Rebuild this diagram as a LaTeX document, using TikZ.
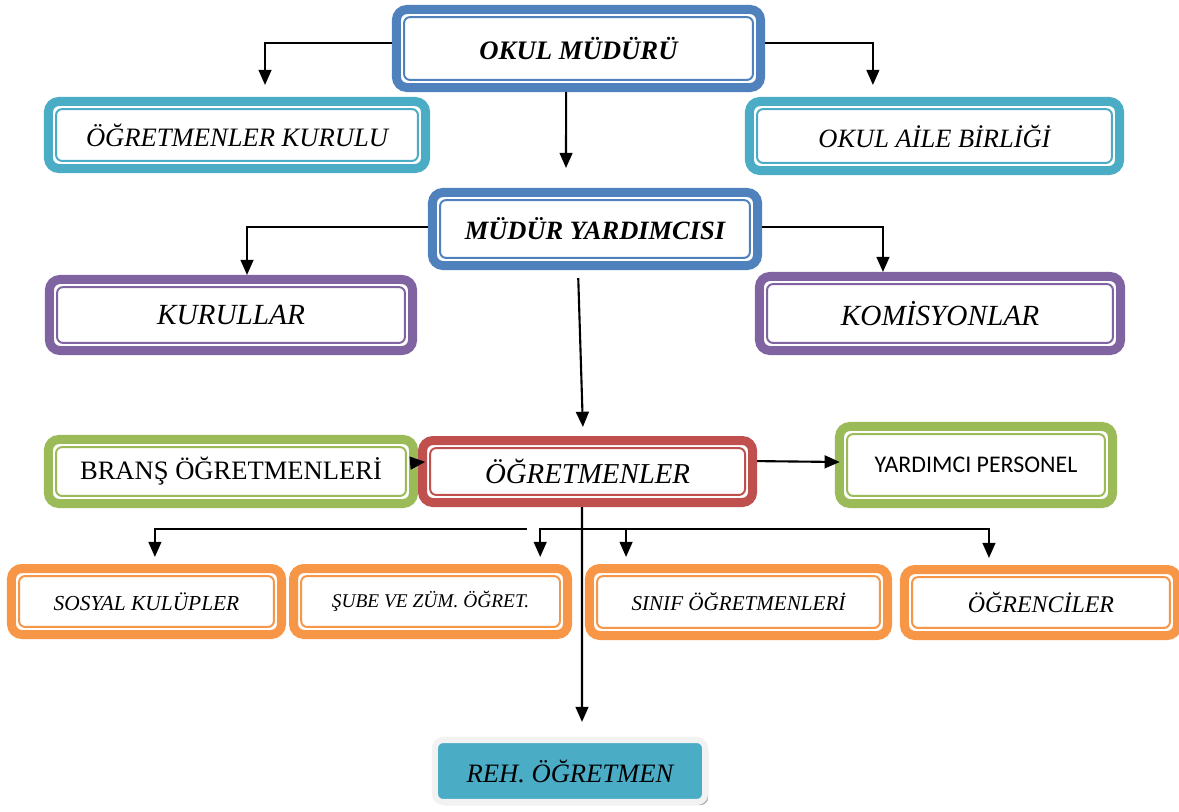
\documentclass[tikz,border=0pt]{standalone}
\usepackage{fontspec}
\setmainfont{Liberation Serif}
\newfontfamily\calibrifont{Carlito}
\usepackage{xcolor}
\usetikzlibrary{arrows.meta, positioning, shadows}

\definecolor{mavi}{HTML}{4F81BD}
\definecolor{turkuaz}{HTML}{4BACC6}
\definecolor{mor}{HTML}{8064A2}
\definecolor{yesil}{HTML}{9BBB59}
\definecolor{kirmizi}{HTML}{C0504D}
\definecolor{turuncu}{HTML}{F79646}
\definecolor{acikgri}{HTML}{F2F2F2}

\begin{document}
\begin{tikzpicture}[
        x=0.025cm, y=-0.025cm,
        kutu/.style = {draw=#1, line width=6.4pt, rounded corners=0.26cm, fill=white, inner sep=0pt, outer sep=3.2pt, align=center,
            path picture={\draw[#1, line width=1.4pt, rounded corners=0.15cm]
                ([shift={(0.19cm,0.19cm)}]path picture bounding box.south west) rectangle
                ([shift={(-0.19cm,-0.19cm)}]path picture bounding box.north east);}},
        rehkutu/.style = {draw=acikgri, fill=turkuaz, line width=4.3pt, rounded corners=0.2cm, inner sep=0pt, outer sep=2.15pt,
            drop shadow={shadow xshift=0.08cm, shadow yshift=-0.08cm, fill=black!45, opacity=0.7}},
        ok/.style = {-{Triangle[length=0.38cm, width=0.32cm]}, line width=1.5pt},
        yazi/.style = {font=\fontsize{#1}{#1}\selectfont\itshape}
    ]
    \useasboundingbox (0,0) rectangle (1179,811);

    \node[kutu=mavi, minimum width=9.1cm, minimum height=1.95cm, font=\fontsize{19}{22}\selectfont\bfseries\itshape] (mudur) at (578.5,48.5) {OKUL MÜDÜRÜ};
    \node[kutu=turkuaz, minimum width=9.425cm, minimum height=1.675cm, yazi=18.9] (kurul) at (237,135) {ÖĞRETMENLER KURULU};
    \node[kutu=turkuaz, minimum width=9.25cm, minimum height=1.725cm, yazi=18.8] (aile) at (934.5,136) {OKUL AİLE BİRLİĞİ};
    \node[kutu=mavi, minimum width=8.125cm, minimum height=1.825cm, font=\fontsize{18.8}{22}\selectfont\bfseries\itshape] (yardimci) at (595,229) {MÜDÜR YARDIMCISI};
    \node[kutu=mor, minimum width=9.075cm, minimum height=1.775cm, yazi=20.8] (kurullar) at (231,315) {KURULLAR};
    \node[kutu=mor, minimum width=9.025cm, minimum height=1.85cm, yazi=20.8] (komisyon) at (940,313.5) {KOMİSYONLAR};
    \node[kutu=yesil, minimum width=9.125cm, minimum height=1.6cm, font=\fontsize{18.9}{22}\selectfont] (brans) at (231,471.5) {BRANŞ ÖĞRETMENLERİ};
    \node[kutu=kirmizi, minimum width=8.25cm, minimum height=1.55cm, yazi=20.5, right=0pt of brans] (ogretmen) {ÖĞRETMENLER};
    \node[kutu=yesil, minimum width=6.825cm, minimum height=1.925cm, font=\calibrifont\fontsize{17}{20}\selectfont] (personel) at (976,465) {YARDIMCI PERSONEL};
    \node[kutu=turuncu, minimum width=6.75cm, minimum height=1.65cm, yazi=15.2] (sosyal) at (146.5,601.5) {SOSYAL KULÜPLER};
    \node[kutu=turuncu, minimum width=6.85cm, minimum height=1.65cm, yazi=13.8, right=0.075cm of sosyal] (sube) {ŞUBE VE ZÜM. ÖĞRET.};
    \node[kutu=turuncu, minimum width=7.45cm, minimum height=1.675cm, yazi=15] (sinif) at (738.5,602) {SINIF ÖĞRETMENLERİ};
    \node[kutu=turuncu, minimum width=6.825cm, minimum height=1.65cm, yazi=17] (ogrenci) at (1041,602.5) {ÖĞRENCİLER};
    \node[rehkutu, minimum width=6.75cm, minimum height=1.55cm, yazi=18.9] (reh) at (570,771) {REH. ÖĞRETMEN};

    \draw[ok, shorten >=0.3cm] ([yshift=0.14cm]mudur.west) -| ([xshift=0.7cm]kurul.north);
    \draw[ok, shorten >=0.3cm] ([yshift=0.14cm]mudur.east) -| ([xshift=-1.54cm]aile.north);
    \draw[ok, shorten >=0.5cm] ([xshift=-0.31cm]mudur.south) -- ([xshift=-0.725cm]yardimci.north);
    \draw[ok] ([yshift=0.05cm]yardimci.west) -| ([xshift=0.4cm]kurullar.north);
    \draw[ok] ([yshift=0.05cm]yardimci.east) -| ([xshift=-1.425cm]komisyon.north);
    \draw[ok, shorten <=0.2cm, shorten >=0.225cm] ([xshift=-0.425cm]yardimci.south) -- ([xshift=-0.11cm]ogretmen.north);
    \draw[ok] ([shift={(-0.2cm,0.21cm)}]brans.east) -- ([shift={(0.18cm,0.24cm)}]ogretmen.west);
    \draw[ok] ([yshift=0.26cm]ogretmen.east) -- ([shift={(0.12cm,0.075cm)}]personel.west);

    \draw[ok, shorten >=0.375cm] ([xshift=-0.14cm]ogretmen.south) -- ([xshift=0.3cm]reh.north);
    \coordinate (dal) at ([shift={(-0.14cm,-0.55cm)}]ogretmen.south);
    \coordinate (solbas) at ([shift={(-1.51cm,-0.55cm)}]ogretmen.south);
    \draw[ok, shorten >=0.175cm] (solbas) -| ([xshift=0.21cm]sosyal.north);
    \draw[ok, shorten >=0.175cm] (dal) -| ([xshift=2.74cm]sube.north);
    \draw[ok, shorten >=0.175cm] (dal) -| ([xshift=-2.81cm]sinif.north);
    \draw[ok, shorten >=0.175cm] (dal) -| ([xshift=-1.3cm]ogrenci.north);
\end{tikzpicture}
\end{document}
